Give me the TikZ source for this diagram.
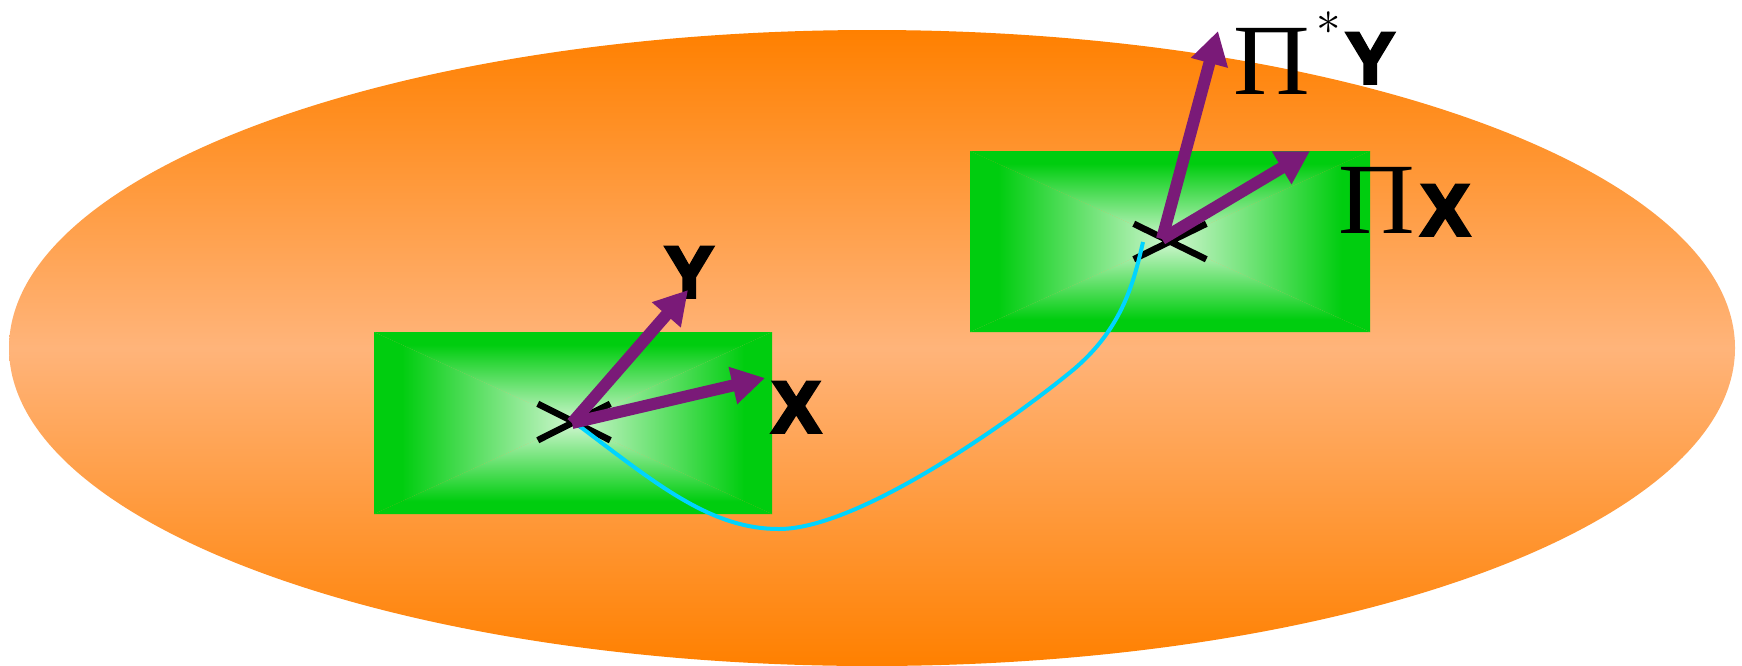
\documentclass[tikz,border=0pt]{standalone}
\usepackage{fontspec}
\usetikzlibrary{arrows.meta,shapes.misc}
\newfontfamily\labfont{Liberation Sans Bold}[FakeBold=5]
\newfontfamily\grfont{Liberation Serif}
\definecolor{orangeD}{RGB}{255,128,0}
\definecolor{orangeL}{RGB}{255,180,122}
\definecolor{greenD}{RGB}{0,205,15}
\definecolor{greenL}{RGB}{208,246,208}
\definecolor{purp}{RGB}{122,26,120}
\definecolor{cyanC}{RGB}{0,212,255}
\pgfdeclareverticalshading{gboxshade}{100bp}{color(0bp)=(greenD); color(25bp)=(greenD); color(32bp)=(greenD); color(75bp)=(greenL); color(100bp)=(greenL)}
\newcommand\shadegreenbox[1]{%
  \shade[shading=gboxshade, shading angle=0] (#1.south west) -- (#1.south east) -- (#1.center) -- cycle;
  \shade[shading=gboxshade, shading angle=180] (#1.north west) -- (#1.north east) -- (#1.center) -- cycle;
  \shade[shading=gboxshade, shading angle=270] (#1.north west) -- (#1.south west) -- (#1.center) -- cycle;
  \shade[shading=gboxshade, shading angle=90] (#1.north east) -- (#1.south east) -- (#1.center) -- cycle;
}
\tikzset{
  lab/.style={font=\labfont\fontsize{72}{80}\selectfont, inner sep=0pt, anchor=base west},
  pilab/.style={font=\grfont\fontsize{101}{110}\selectfont, xscale=1.05, inner sep=0pt, anchor=base west},
  starlab/.style={font=\fontsize{10}{12}\selectfont, scale=4.9, inner sep=0pt, anchor=base west},
  vec/.style={draw=purp, line width=12pt, -{Triangle[length=33pt,width=36pt]}},
  xmark/.style={cross out, draw=black, line width=6.5pt, minimum width=66pt, minimum height=30pt, inner sep=0pt},
  gboxnode/.style={inner sep=0pt, outer sep=0pt},
  curvepath/.style={draw=cyanC, line width=4pt},
}
\begin{document}
\begin{tikzpicture}[x=1pt,y=-1pt]
\useasboundingbox (0,0) rectangle (1742,665);
% big ellipse
\shade[top color=orangeD, bottom color=orangeD, middle color=orangeL] (872,348) ellipse [x radius=863pt, y radius=318pt];
% green boxes
\node[gboxnode, minimum width=398pt, minimum height=182pt] (r1) at (573,423) {};
\node[gboxnode, minimum width=400pt, minimum height=181pt] (r2) at (1170,241.5) {};
\shadegreenbox{r1}
\shadegreenbox{r2}
% crosses
\node[xmark] (c1) at (574,422) {};
\node[xmark, minimum height=29pt] (c2) at (1170,241.5) {};
% cyan path
\coordinate (m1) at (779,529);
\coordinate (m2) at (1073,370);
\coordinate (e2) at (1143,242);
\draw[curvepath] (c1.center) .. controls (654,482) and (709,529) .. (m1)
  .. controls (859,529) and (1011,421) .. (m2)
  .. controls (1123,328) and (1134,281) .. (e2);
% labels
\node[lab] (ly) at (665,297) {Y};
\node[lab] (lx) at (772,432) {X};
\node[pilab] (pi1) at (1233.5,94) {Π};
\node[starlab] (st) at (1315.5,34.5) {$\ast$};
\node[lab] (ly2) at (1346,83) {Y};
\node[pilab] (pi2) at (1338.5,233) {Π};
\node[lab] (lx2) at (1421,235) {X};
% arrows
\coordinate (a1) at (572,423);
\coordinate (ty1) at (688,290);
\coordinate (tx1) at (765,378);
\coordinate (a2) at (1162,239);
\coordinate (ty2) at (1218,31);
\coordinate (tx2) at (1310,151);
\draw[vec] (a1) -- (ty1);
\draw[vec] (a1) -- (tx1);
\draw[vec] (a2) -- (ty2);
\draw[vec] (a2) -- (tx2);
\end{tikzpicture}
\end{document}
